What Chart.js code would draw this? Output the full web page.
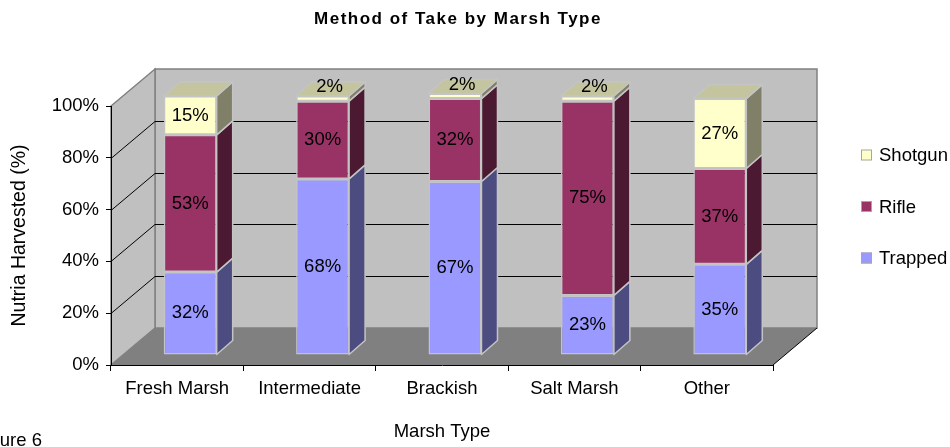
<!DOCTYPE html>
<html>
<head>
<meta charset="utf-8">
<title>Method of Take by Marsh Type</title>
<script src="https://cdn.jsdelivr.net/npm/chart.js@4.4.0/dist/chart.umd.min.js"></script>
<style>
    html, body { margin: 0; padding: 0; background: #ffffff; }
    canvas { display: block; }
</style>
</head>
<body>
<canvas id="metodoChart" width="950" height="447"></canvas>
<script>
// Datos del gráfico (porcentaje de nutrias cosechadas por método)
const categorias = ['Fresh Marsh', 'Intermediate', 'Brackish', 'Salt Marsh', 'Other'];
const trapped = [32, 68, 67, 23, 35];
const rifle = [53, 30, 32, 75, 37];
const shotgun = [15, 2, 2, 2, 27];
const ejeYMax = 100;
const ejeYPaso = 20;

const FUENTE = "'Liberation Sans', Arial, sans-serif";
const TAM = 18.5;

// Profundidad del "3D": paredes, desplazamiento de las barras y grosor de las barras
const PROF_PARED = { x: 44, y: -37 };
const DESPL_BARRA = { x: 13, y: -10 };
const PROF_BARRA = { x: 16, y: -14 };
const BORDE_BARRA = '#c4c4c4';

function poligono(ctx, puntos) {
    ctx.beginPath();
    ctx.moveTo(puntos[0][0], puntos[0][1]);
    for (let i = 1; i < puntos.length; i++) ctx.lineTo(puntos[i][0], puntos[i][1]);
    ctx.closePath();
}

// Paredes, piso y líneas de la cuadrícula (se dibujan antes que todo)
const paredes3D = {
    id: 'paredes3D',
    beforeDraw(chart) {
        const ctx = chart.ctx;
        const xs = chart.scales.x, ys = chart.scales.y;
        const L = xs.left, R = xs.right;
        const T = ys.getPixelForValue(ejeYMax), B = ys.getPixelForValue(0);
        const dx = PROF_PARED.x, dy = PROF_PARED.y;

        ctx.save();
        ctx.lineWidth = 1.5;
        ctx.strokeStyle = '#808080';
        ctx.fillStyle = '#c0c0c0';
        poligono(ctx, [[L + dx, T + dy], [R + dx, T + dy], [R + dx, B + dy], [L + dx, B + dy]]);
        ctx.fill(); ctx.stroke();
        poligono(ctx, [[L, T], [L + dx, T + dy], [L + dx, B + dy], [L, B]]);
        ctx.fill(); ctx.stroke();

        ctx.fillStyle = '#808080';
        poligono(ctx, [[L, B], [R, B], [R + dx, B + dy], [L + dx, B + dy]]);
        ctx.fill();

        ctx.strokeStyle = '#000000';
        ctx.lineWidth = 1;
        ctx.beginPath();
        ctx.moveTo(R, B);
        ctx.lineTo(R + dx, B + dy);
        ctx.stroke();

        ys.ticks.forEach(t => {
            if (t.value <= 0 || t.value >= ejeYMax) return;
            const y = Math.round(ys.getPixelForValue(t.value)) + 0.5;
            ctx.beginPath();
            ctx.moveTo(L, y);
            ctx.lineTo(L + dx, y + dy);
            ctx.lineTo(R + dx, y + dy);
            ctx.stroke();
        });
        ctx.restore();
    }
};

// Caras laterales/superiores de las barras y etiquetas de valores
const barras3D = {
    id: 'barras3D',
    beforeDatasetsDraw(chart) {
        chart.ctx.save();
        chart.ctx.translate(DESPL_BARRA.x, DESPL_BARRA.y);
    },
    afterDatasetsDraw(chart) {
        const ctx = chart.ctx;
        const ultimo = chart.data.datasets.length - 1;
        const bdx = PROF_BARRA.x, bdy = PROF_BARRA.y;

        ctx.lineWidth = 1.5;
        ctx.strokeStyle = BORDE_BARRA;
        ctx.lineJoin = 'round';
        chart.data.datasets.forEach((ds, i) => {
            chart.getDatasetMeta(i).data.forEach(bar => {
                const p = bar.getProps(['x', 'y', 'base', 'width'], true);
                const izq = p.x - p.width / 2, der = p.x + p.width / 2;
                const arriba = Math.min(p.y, p.base), abajo = Math.max(p.y, p.base);
                ctx.fillStyle = ds.colorLado;
                poligono(ctx, [[der, arriba], [der + bdx, arriba + bdy], [der + bdx, abajo + bdy], [der, abajo]]);
                ctx.fill(); ctx.stroke();
                if (i === ultimo) {
                    ctx.fillStyle = ds.colorTapa;
                    poligono(ctx, [[izq, arriba], [izq + bdx, arriba + bdy], [der + bdx, arriba + bdy], [der, arriba]]);
                    ctx.fill(); ctx.stroke();
                }
            });
        });

        ctx.fillStyle = '#000000';
        ctx.font = TAM + 'px ' + FUENTE;
        ctx.textAlign = 'center';
        ctx.textBaseline = 'middle';
        chart.data.datasets.forEach((ds, i) => {
            chart.getDatasetMeta(i).data.forEach((bar, j) => {
                const p = bar.getProps(['x', 'y', 'base'], true);
                const alto = Math.abs(p.base - p.y);
                const texto = ds.data[j] + '%';
                if (alto >= 16) {
                    ctx.fillText(texto, p.x, (p.y + p.base) / 2);
                } else {
                    ctx.fillText(texto, p.x + 7, Math.min(p.y, p.base) - 9);
                }
            });
        });
        ctx.restore();
    }
};

// Título, leyenda y texto de figura
const textosExtra = {
    id: 'textosExtra',
    afterDraw(chart) {
        const ctx = chart.ctx;
        ctx.save();
        ctx.fillStyle = '#000000';
        ctx.font = 'bold 17px ' + FUENTE;
        ctx.letterSpacing = '1.5px';
        ctx.textAlign = 'center';
        ctx.textBaseline = 'middle';
        ctx.fillText('Method of Take by Marsh Type', 458, 19);
        ctx.letterSpacing = '0px';

        // leyenda en orden inverso (Shotgun arriba)
        ctx.font = TAM + 'px ' + FUENTE;
        ctx.textAlign = 'left';
        const items = chart.data.datasets.slice().reverse();
        items.forEach((ds, k) => {
            const yc = 155 + k * 51.5;
            ctx.fillStyle = ds.backgroundColor;
            ctx.fillRect(861, yc - 5.5, 11, 11);
            ctx.strokeStyle = '#a6a6a6';
            ctx.lineWidth = 1;
            ctx.strokeRect(861.5, yc - 5, 10, 10);
            ctx.fillStyle = '#000000';
            ctx.fillText(ds.label, 879, yc + 1);
        });

        ctx.textAlign = 'right';
        ctx.textBaseline = 'alphabetic';
        ctx.fillText('Figure 6', 42, 446);
        ctx.restore();
    }
};

const ctxMetodo = document.getElementById('metodoChart');
new Chart(ctxMetodo, {
    type: 'bar',
    data: {
        labels: categorias,
        datasets: [
            { label: 'Trapped', data: trapped, backgroundColor: '#9999ff', colorLado: '#4c4c80', colorTapa: '#7878c8' },
            { label: 'Rifle', data: rifle, backgroundColor: '#993366', colorLado: '#4c1933', colorTapa: '#73264d' },
            { label: 'Shotgun', data: shotgun, backgroundColor: '#ffffcc', colorLado: '#808068', colorTapa: '#c4c49e' }
        ].map(d => Object.assign(d, {
            borderColor: BORDE_BARRA,
            borderWidth: 1.5,
            borderSkipped: false,
            barPercentage: 0.4,
            categoryPercentage: 1,
            clip: false
        }))
    },
    options: {
        responsive: false,
        animation: false,
        layout: { padding: { left: 4, top: 106, right: 177, bottom: 0 } },
        plugins: {
            legend: { display: false },
            title: { display: false },
            tooltip: { enabled: false }
        },
        scales: {
            x: {
                stacked: true,
                grid: { offset: true, drawOnChartArea: false, color: '#000000', tickLength: 6 },
                border: { display: true, color: '#000000', width: 1 },
                ticks: { color: '#000000', padding: 7, font: { family: FUENTE, size: TAM }, maxRotation: 0 },
                title: { display: true, text: 'Marsh Type', color: '#000000', padding: { top: 4, bottom: 4 }, font: { family: FUENTE, size: TAM } },
                afterFit(scale) { scale.height = 82; }
            },
            y: {
                stacked: true,
                min: 0,
                max: ejeYMax,
                grid: { drawOnChartArea: false, color: '#000000', tickLength: 5 },
                border: { display: true, color: '#000000', width: 1 },
                ticks: {
                    stepSize: ejeYPaso,
                    color: '#000000',
                    padding: 7,
                    font: { family: FUENTE, size: TAM },
                    callback: v => v + '%'
                },
                title: { display: true, text: 'Nutria Harvested (%)', color: '#000000', padding: { top: 4, bottom: 4 }, font: { family: FUENTE, size: 19.5 } },
                afterFit(scale) { scale.width = 107; }
            }
        }
    },
    plugins: [paredes3D, barras3D, textosExtra]
});
</script>
</body>
</html>
